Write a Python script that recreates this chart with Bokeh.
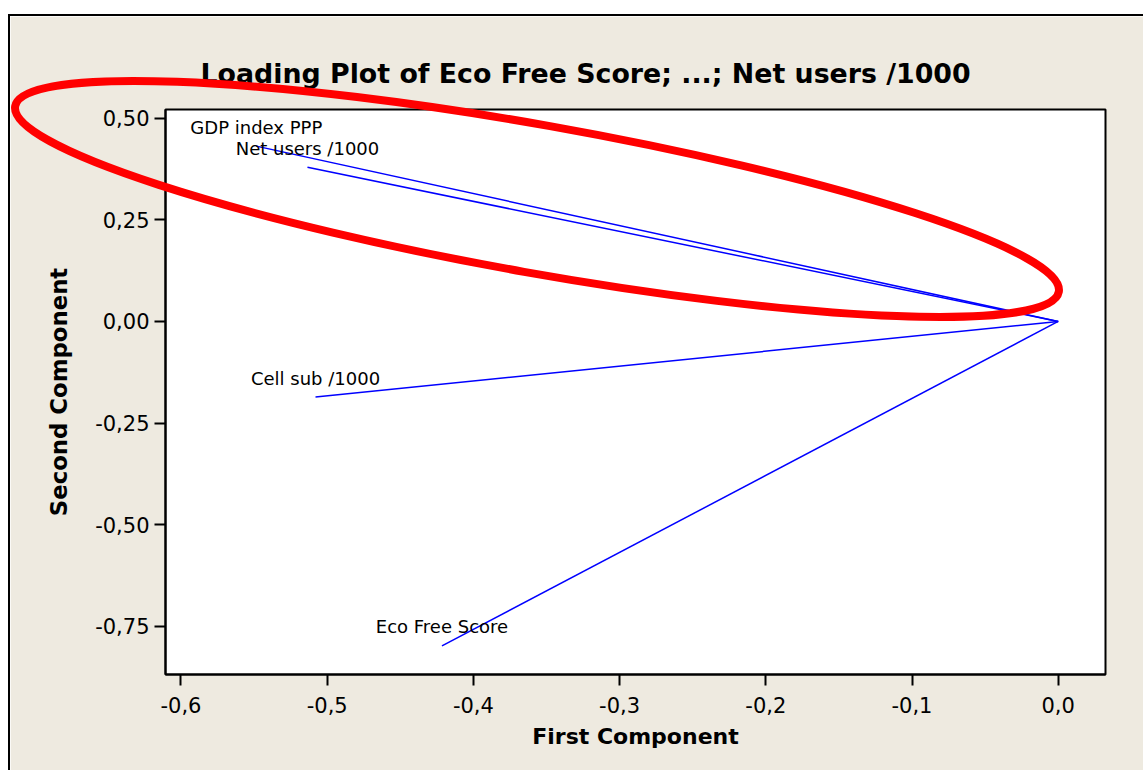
from bokeh.plotting import figure
from bokeh.models import FixedTicker, Title, Spacer, ColumnDataSource
from bokeh.layouts import column
from bokeh.embed import file_html
from bokeh.resources import INLINE
from bokeh.core.properties import value

# ---- data (loadings) ----
variables = ["Eco Free Score", "Cell sub /1000", "GDP index PPP", "Net users /1000"]
pc1 = [-0.4215, -0.508, -0.5485, -0.5135]
pc2 = [-0.798, -0.186, 0.431, 0.379]
origin_x = [0.0, 0.0, 0.0, 0.0]
origin_y = [0.0, 0.0, 0.0, 0.0]

x_ticks = [-0.6, -0.5, -0.4, -0.3, -0.2, -0.1, 0.0]
x_tick_labels = ["-0,6", "-0,5", "-0,4", "-0,3", "-0,2", "-0,1", "0,0"]
y_ticks = [-0.75, -0.5, -0.25, 0.0, 0.25, 0.5]
y_tick_labels = ["-0,75", "-0,50", "-0,25", "0,00", "0,25", "0,50"]

# red highlight ellipse (annotation)
ell_x = [-0.3565]
ell_y = [0.3011]

BG = "#EEEAE0"
FONT = "DejaVu Sans"

src = ColumnDataSource(dict(name=variables, x1=pc1, y1=pc2, x0=origin_x, y0=origin_y))

p = figure(width=1135, height=756,
           x_range=(-0.6106, 0.03235), y_range=(-0.8682, 0.5211),
           output_backend="svg", toolbar_location=None,
           min_border_left=155, min_border_right=40,
           min_border_top=93, min_border_bottom=98,
           background_fill_color="white", border_fill_color=BG,
           outline_line_color="black", outline_line_width=2)

p.title = Title(text="Loading Plot of Eco Free Score; ...; Net users /1000",
                align="left", offset=35, text_font=FONT, text_font_size="26.8px",
                text_font_style="bold", text_color="black", standoff=42)

p.xgrid.visible = False
p.ygrid.visible = False

for ax, ticks, labels in ((p.xaxis, x_ticks, x_tick_labels), (p.yaxis, y_ticks, y_tick_labels)):
    ax.ticker = FixedTicker(ticks=ticks, minor_ticks=[])
    ax.major_label_overrides = dict(zip(ticks, labels))
    ax.major_tick_out = 11
    ax.major_tick_in = 0
    ax.minor_tick_out = 0
    ax.minor_tick_in = 0
    ax.major_tick_line_width = 2
    ax.major_tick_line_color = "black"
    ax.axis_line_color = "black"
    ax.axis_line_width = 2
    ax.major_label_text_font = FONT
    ax.major_label_text_font_size = "21px"
    ax.major_label_text_color = "black"
    ax.axis_label_text_font = FONT
    ax.axis_label_text_font_style = "bold"
    ax.axis_label_text_color = "black"

p.xaxis.axis_label = "First Component"
p.yaxis.axis_label = "Second Component"
p.xaxis.axis_label_text_font_size = "22px"
p.yaxis.axis_label_text_font_size = "22.8px"
p.xaxis.major_label_standoff = 11
p.xaxis.axis_label_standoff = 8
p.yaxis.major_label_standoff = 5
p.yaxis.axis_label_standoff = 20

p.segment(x0="x0", y0="y0", x1="x1", y1="y1", source=src,
          line_color="#0000FF", line_width=1.5)
p.text(x="x1", y="y1", text="name", source=src,
       text_align="center", text_baseline="middle", y_offset=-19,
       text_font=value(FONT), text_font_size="18px", text_color="black")

p.ellipse(x=ell_x, y=ell_y, width=1060, height=148,
          width_units="screen", height_units="screen", angle=-0.176,
          fill_color=None, line_color="#FF0000", line_width=8, level="overlay")

p.styles = {"border-left": "2px solid black", "border-top": "2px solid black",
            "margin-left": "8px", "margin-top": "7px"}

layout = column(Spacer(width=1135, height=7), p)

with open("out.html", "w") as f:
    f.write(file_html(layout, INLINE))
